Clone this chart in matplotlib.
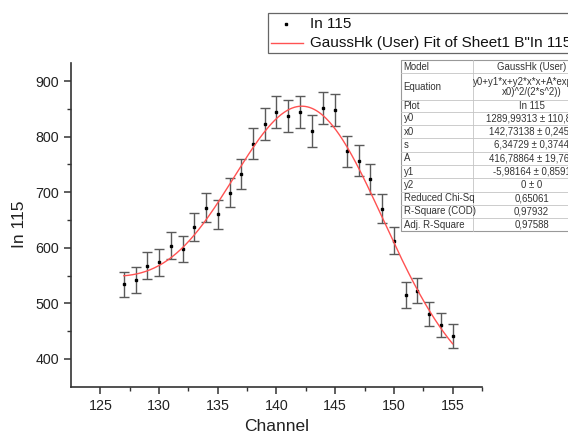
import numpy as np
import matplotlib
matplotlib.use("Agg")
import matplotlib.pyplot as plt
from matplotlib.lines import Line2D
from matplotlib.patches import Rectangle

plt.rcParams['font.family'] = ['Liberation Sans', 'DejaVu Sans']

# ---- data ----
channel = [127, 128, 129, 130, 131, 132, 133, 134, 135, 136, 137, 138, 139, 140, 141,
           142, 143, 144, 145, 146, 147, 148, 149, 150, 151, 152, 153, 154, 155]
counts = [534, 542, 568, 574, 604, 598, 638, 672, 660, 699, 733, 787, 823, 844, 837,
          844, 810, 852, 848, 774, 757, 723, 670, 613, 515, 523, 481, 461, 441]
errors = [23, 23, 24, 24, 25, 24, 25, 26, 26, 26, 27, 28, 29, 29, 29,
          29, 28, 29, 29, 28, 28, 27, 26, 25, 23, 23, 22, 21, 21]

# fit parameters (from the table in the chart)
fit_y0 = 1289.99313
fit_x0 = 142.73138
fit_s = 6.34729
fit_A = 416.78864
fit_y1 = -5.98164
fit_y2 = 0.0

table_labels = ["Model", "Equation", "Plot", "y0", "x0", "s", "A", "y1", "y2",
                "Reduced Chi-Sq", "R-Square (COD)", "Adj. R-Square"]
table_values = ["GaussHk (User)", "y0+y1*x+y2*x*x+A*exp(-(x-\nx0)^2/(2*s^2))", "In 115",
                "1289,99313 \u00b1 110,86", "142,73138 \u00b1 0,2453", "6,34729 \u00b1 0,3744",
                "416,78864 \u00b1 19,763", "-5,98164 \u00b1 0,8591", "0 \u00b1 0",
                "0,65061", "0,97932", "0,97588"]

W, H = 568, 437
fig = plt.figure(figsize=(W / 100, H / 100), dpi=100)
ax = fig.add_axes([71 / W, 1 - 386.7 / H, (482 - 71) / W, (386.7 - 62.7) / H])

ax.errorbar(channel, counts, yerr=errors, fmt='s', color='black', markersize=1.7,
            ecolor='#5a5a5a', elinewidth=1.0, capsize=3.6, capthick=1.0, zorder=3)

xf = np.linspace(min(channel), max(channel), 300)
yf = fit_y0 + fit_y1 * xf + fit_y2 * xf * xf + fit_A * np.exp(-(xf - fit_x0) ** 2 / (2 * fit_s ** 2))
ax.plot(xf, yf, color='#ff5252', lw=1.0, zorder=4)

ax.set_xlim(122.5, 157.5)
ax.set_ylim(350, 933)
ax.set_xticks([125, 130, 135, 140, 145, 150, 155])
ax.set_xticks(np.arange(127.5, 157.6, 5), minor=True)
ax.set_yticks([400, 500, 600, 700, 800, 900])
ax.set_yticks([450, 550, 650, 750, 850], minor=True)
for sp in ['top', 'right']:
    ax.spines[sp].set_visible(False)
for sp in ['left', 'bottom']:
    ax.spines[sp].set_linewidth(1.2)
    ax.spines[sp].set_color('#333333')
ax.tick_params(which='major', direction='out', length=5, width=1.1, colors='#333333',
               labelsize=10.3, labelcolor='#222222')
ax.tick_params(which='minor', direction='out', length=3, width=1.0, colors='#333333')
ax.set_xlabel("Channel", fontsize=12.5, color='#222222', labelpad=5)
ax.set_ylabel("In 115", fontsize=12.5, color='#222222', labelpad=6)

# ---- legend box (drawn in figure pixel coords) ----
def fx(px):
    return px / W

def fy(py):
    return 1 - py / H

fig.patches.append(Rectangle((fx(268.3), fy(53.3)), fx(330), (53.3 - 12.7) / H,
                             transform=fig.transFigure, facecolor='white',
                             edgecolor='#666666', lw=0.9, zorder=5))
fig.lines.append(Line2D([fx(286)], [fy(24)], marker='s', markersize=1.5, color='black',
                        linestyle='none', transform=fig.transFigure, zorder=6))
fig.lines.append(Line2D([fx(271), fx(303)], [fy(42.7), fy(42.7)], color='#ff5252', lw=1.0,
                        transform=fig.transFigure, zorder=6))
fig.text(fx(310), fy(24), "In 115", fontsize=11, va='center', ha='left', color='#111111', zorder=7)
fig.text(fx(310), fy(42.7), 'GaussHk (User) Fit of Sheet1 B"In 115"', fontsize=11,
         va='center', ha='left', color='#111111', zorder=7)

# ---- parameter table ----
tx0, tx1, tx2 = 400.7, 473.3, 590
row_h = [13.3, 26.7] + [11.7] + [13.3] * 9
ys = [60]
for h in row_h:
    ys.append(ys[-1] + h)
fig.patches.append(Rectangle((fx(tx0), fy(ys[-1])), (tx2 - tx0) / W, (ys[-1] - ys[0]) / H,
                             transform=fig.transFigure, facecolor='white',
                             edgecolor='#999999', lw=0.8, zorder=5))
for yy in ys[1:-1]:
    fig.lines.append(Line2D([fx(tx0), fx(tx2)], [fy(yy), fy(yy)], color='#c4c4c4', lw=0.6,
                            transform=fig.transFigure, zorder=6))
fig.lines.append(Line2D([fx(tx1), fx(tx1)], [fy(ys[0]), fy(ys[-1])], color='#c4c4c4', lw=0.6,
                        transform=fig.transFigure, zorder=6))
for i, (lab, val) in enumerate(zip(table_labels, table_values)):
    yc = (ys[i] + ys[i + 1]) / 2
    fig.text(fx(tx0 + 3), fy(yc), lab, fontsize=6.9, va='center', ha='left',
             color='#333333', zorder=7)
    fig.text(fx((tx1 + tx2) / 2), fy(yc), val, fontsize=6.9, va='center', ha='center',
             color='#333333', zorder=7, linespacing=1.0, multialignment='center')

fig.savefig("out.png", dpi=100)
